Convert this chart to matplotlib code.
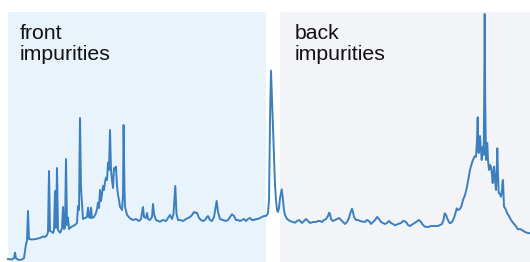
import matplotlib
matplotlib.use("Agg")
import matplotlib.pyplot as plt
from matplotlib.patches import Rectangle

# Position along the scan (pixel-like units) and intensity
pos = [8, 12, 14, 15, 16, 19, 22, 24, 26, 27, 28, 29, 32, 36, 40, 43, 45, 47, 48, 49, 50, 52, 53, 54, 55, 56, 57, 58, 60, 61, 62, 63, 64, 65, 66, 67, 68, 69, 71, 73, 75, 77, 78, 79, 80, 81, 82, 83, 85, 87, 88, 89, 90, 91, 92, 94, 96, 97, 98, 99, 100, 101, 102, 103, 104, 105, 106, 107, 108, 109, 110, 111, 112, 113, 114, 115, 116, 117, 118, 119, 120, 122, 123, 123.6, 124.5, 125, 127, 130, 133, 136, 139, 141, 143, 144, 146, 147, 148, 150, 152, 153, 154, 156, 158, 160, 163, 166, 168, 170, 172, 173.5, 175.3, 176.5, 178, 180, 183, 186, 188, 190, 192, 194, 196, 197, 199, 201, 203, 205, 207, 208, 210, 212, 214, 215.5, 216.7, 218, 220, 223, 226, 228, 230, 232, 234, 236, 238, 240, 242, 244, 246, 248, 250, 252, 254, 256, 258, 260, 262, 264, 266, 268, 269, 270, 271, 272, 273, 274, 275, 276, 277, 278, 279, 280, 281.7, 283, 284, 285, 287, 290, 293, 295, 297, 299, 301, 302, 304, 306, 308, 310, 313, 316, 318, 320, 322, 324, 326, 328, 329, 330, 331, 333, 335, 337, 339, 341, 343, 345, 347, 349, 350, 352, 353, 354, 356, 358, 360, 363, 365, 367, 369, 371, 373, 375, 377, 379, 381, 383, 385, 387, 389, 391, 393, 395, 398, 401, 403, 404, 406, 408, 410, 413, 416, 419, 421, 423, 425, 428, 431, 434, 436, 438, 440, 442, 443.5, 444.7, 446, 447.5, 449, 450, 452, 454, 455.5, 456.7, 458, 460, 461.5, 463, 465, 466.7, 468, 469, 470, 471, 472, 473, 474, 475, 476, 477, 477.7, 478.3, 478.7, 479.5, 480, 481, 481.7, 482.5, 483, 483.7, 484.2, 484.7, 485.2, 486, 486.7, 487.3, 488, 489, 490, 491, 492, 492.7, 493.3, 494, 495, 496, 496.7, 497.3, 498, 498.7, 500, 501, 502, 502.5, 503, 503.5, 504, 505, 506, 507, 509, 511, 513, 515, 518, 520, 522, 525, 528, 530]
depth = [259, 259.5, 258, 252.7, 258.5, 260, 259.5, 258, 244, 241, 211, 239, 239.5, 239, 238, 236.5, 237, 235, 232, 171, 231, 232, 233, 230, 191, 228, 168, 230, 232.7, 231, 228, 207, 229, 228, 159, 225, 217.7, 229, 227, 226, 225, 223, 206, 210, 118, 188, 203, 219, 218, 217, 207.7, 217, 218, 207.7, 218, 217, 213, 209, 202.7, 208, 190, 201, 194, 186, 190, 182, 177.7, 180, 162.7, 170, 130, 170, 180, 188, 168, 170, 166.7, 186, 195, 200, 206.7, 210, 195, 125, 190, 206.7, 215, 218.3, 220, 219, 221, 219, 207, 217, 218, 213, 219, 220, 217, 204, 214, 220, 221, 221.7, 220, 221, 218, 215, 219, 214, 186, 214, 220, 220, 221, 219, 218, 217, 215, 212, 213, 212.7, 218, 220, 221, 220, 217, 216, 220, 221, 217, 208, 201, 212, 219, 220, 221, 220, 217, 214.3, 216, 220, 220, 221, 220, 219, 221, 219, 218, 220, 220, 219, 219, 218, 217, 216, 216, 213.3, 200, 120, 70.7, 100, 126.7, 160, 185, 200, 210, 212, 208, 198, 189.3, 200, 210, 215, 219, 221, 222, 222.7, 221, 220, 222, 223, 221, 219, 221, 223, 222, 222, 221, 221, 222, 220, 219, 216, 212.7, 214, 219, 221, 220, 219, 218, 220, 222, 224, 222, 218, 214, 208.7, 212, 217, 220, 220, 221, 221.7, 222, 220, 221, 224, 222, 220, 217, 219, 222, 223, 224, 223, 221, 223, 224, 225.3, 224, 223, 221, 221, 222, 225, 226, 224, 222, 220, 222, 225, 226.7, 227, 226, 226, 226, 226, 225, 224, 220, 213.3, 215, 219, 222, 223.3, 222, 218, 213, 208.3, 210, 209, 206, 200, 195, 188.3, 181, 176, 170, 166, 162.7, 160, 157.7, 156, 156.7, 140, 117.3, 150, 153, 140, 136, 150, 160, 150, 146.7, 155, 100, 14, 100, 160, 150, 143, 160, 170, 165, 166.7, 175, 183, 172, 166.7, 180, 190, 170, 148.3, 175, 193, 194, 196.7, 190, 182, 180, 195, 206.7, 208, 210, 213, 216, 220, 222.7, 225, 229.3, 229, 230, 232, 233, 233.3]
intensity = [262 - d for d in depth]

labels = ["front\nimpurities", "back\nimpurities"]

fig = plt.figure(figsize=(5.3, 2.62), dpi=100)
ax = fig.add_axes([0, 0, 1, 1])
ax.set_xlim(0, 530)
ax.set_ylim(0, 262)
ax.axis("off")

ax.add_patch(Rectangle((8, 0), 258, 250, facecolor="#e8f3fc", edgecolor="none", zorder=0))
ax.add_patch(Rectangle((280, 0), 250, 250, facecolor="#f2f4f7", edgecolor="none", zorder=0))

ax.plot(pos, intensity, color="#3c7fbf", lw=1.4, zorder=2, solid_joinstyle="round")

ax.text(20, 238, labels[0], fontsize=15.3, family="Liberation Sans", color="#111111",
        va="top", ha="left", linespacing=1.12)
ax.text(295, 238, labels[1], fontsize=15.3, family="Liberation Sans", color="#111111",
        va="top", ha="left", linespacing=1.12)

fig.savefig("out.png", dpi=100)
